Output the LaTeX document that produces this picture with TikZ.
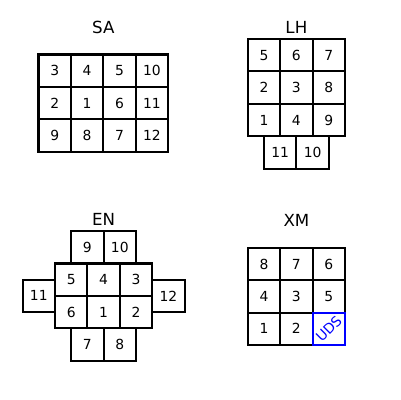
\documentclass[tikz,border=0pt]{standalone}
\usepackage{fontspec}
\usepackage{graphicx}
\setmainfont{DejaVu Sans}
\begin{document}
\begin{tikzpicture}[x=0.72pt,y=-0.72pt,
  cell/.style={draw, line width=1.5pt, minimum size=23.33pt, inner sep=0pt, font=\fontsize{10}{12}\selectfont},
  udscell/.style={cell, draw=blue, text=blue},
  ttl/.style={font=\fontsize{12}{14}\selectfont, anchor=base, inner sep=0pt}]
\useasboundingbox (0,0) rectangle (400,400);
% SA
\node[ttl] (tSA) at (103.3,34) {SA};
\node[cell] (sa3) at (54.7,70.7) {3};
\node[cell] (sa4) at (87.1,70.7) {4};
\node[cell] (sa5) at (119.5,70.7) {5};
\node[cell] (sa10) at (151.9,70.7) {10};
\node[cell] (sa2) at (54.7,103.1) {2};
\node[cell] (sa1) at (87.1,103.1) {1};
\node[cell] (sa6) at (119.5,103.1) {6};
\node[cell] (sa11) at (151.9,103.1) {11};
\node[cell] (sa9) at (54.7,135.5) {9};
\node[cell] (sa8) at (87.1,135.5) {8};
\node[cell] (sa7) at (119.5,135.5) {7};
\node[cell] (sa12) at (151.9,135.5) {12};
% LH
\node[ttl] (tLH) at (296.4,34) {LH};
\node[cell] (lh5) at (264,55.2) {5};
\node[cell] (lh6) at (296.4,55.2) {6};
\node[cell] (lh7) at (328.8,55.2) {7};
\node[cell] (lh2) at (264,87.6) {2};
\node[cell] (lh3) at (296.4,87.6) {3};
\node[cell] (lh8) at (328.8,87.6) {8};
\node[cell] (lh1) at (264,120) {1};
\node[cell] (lh4) at (296.4,120) {4};
\node[cell] (lh9) at (328.8,120) {9};
\node[cell] (lh11) at (280.2,152.4) {11};
\node[cell] (lh10) at (312.6,152.4) {10};
% EN
\node[ttl] (tEN) at (103.6,226) {EN};
\node[cell] (en9) at (87.4,247.3) {9};
\node[cell] (en10) at (119.8,247.3) {10};
\node[cell] (en5) at (71.2,279.7) {5};
\node[cell] (en4) at (103.6,279.7) {4};
\node[cell] (en3) at (136,279.7) {3};
\node[cell] (en6) at (71.2,312.1) {6};
\node[cell] (en1) at (103.6,312.1) {1};
\node[cell] (en2) at (136,312.1) {2};
\node[cell] (en11) at (38.8,295.9) {11};
\node[cell] (en12) at (168.4,295.9) {12};
\node[cell] (en7) at (87.4,344.5) {7};
\node[cell] (en8) at (119.8,344.5) {8};
% XM
\node[ttl] (tXM) at (296.4,226.5) {XM};
\node[cell] (xm8) at (264,264) {8};
\node[cell] (xm7) at (296.4,264) {7};
\node[cell] (xm6) at (328.8,264) {6};
\node[cell] (xm4) at (264,296.4) {4};
\node[cell] (xm3) at (296.4,296.4) {3};
\node[cell] (xm5) at (328.8,296.4) {5};
\node[cell] (xm1) at (264,328.8) {1};
\node[cell] (xm2) at (296.4,328.8) {2};
\node[udscell] (xmuds) at (328.8,328.8) {\rotatebox[origin=c]{45}{UDS}};
\end{tikzpicture}
\end{document}
